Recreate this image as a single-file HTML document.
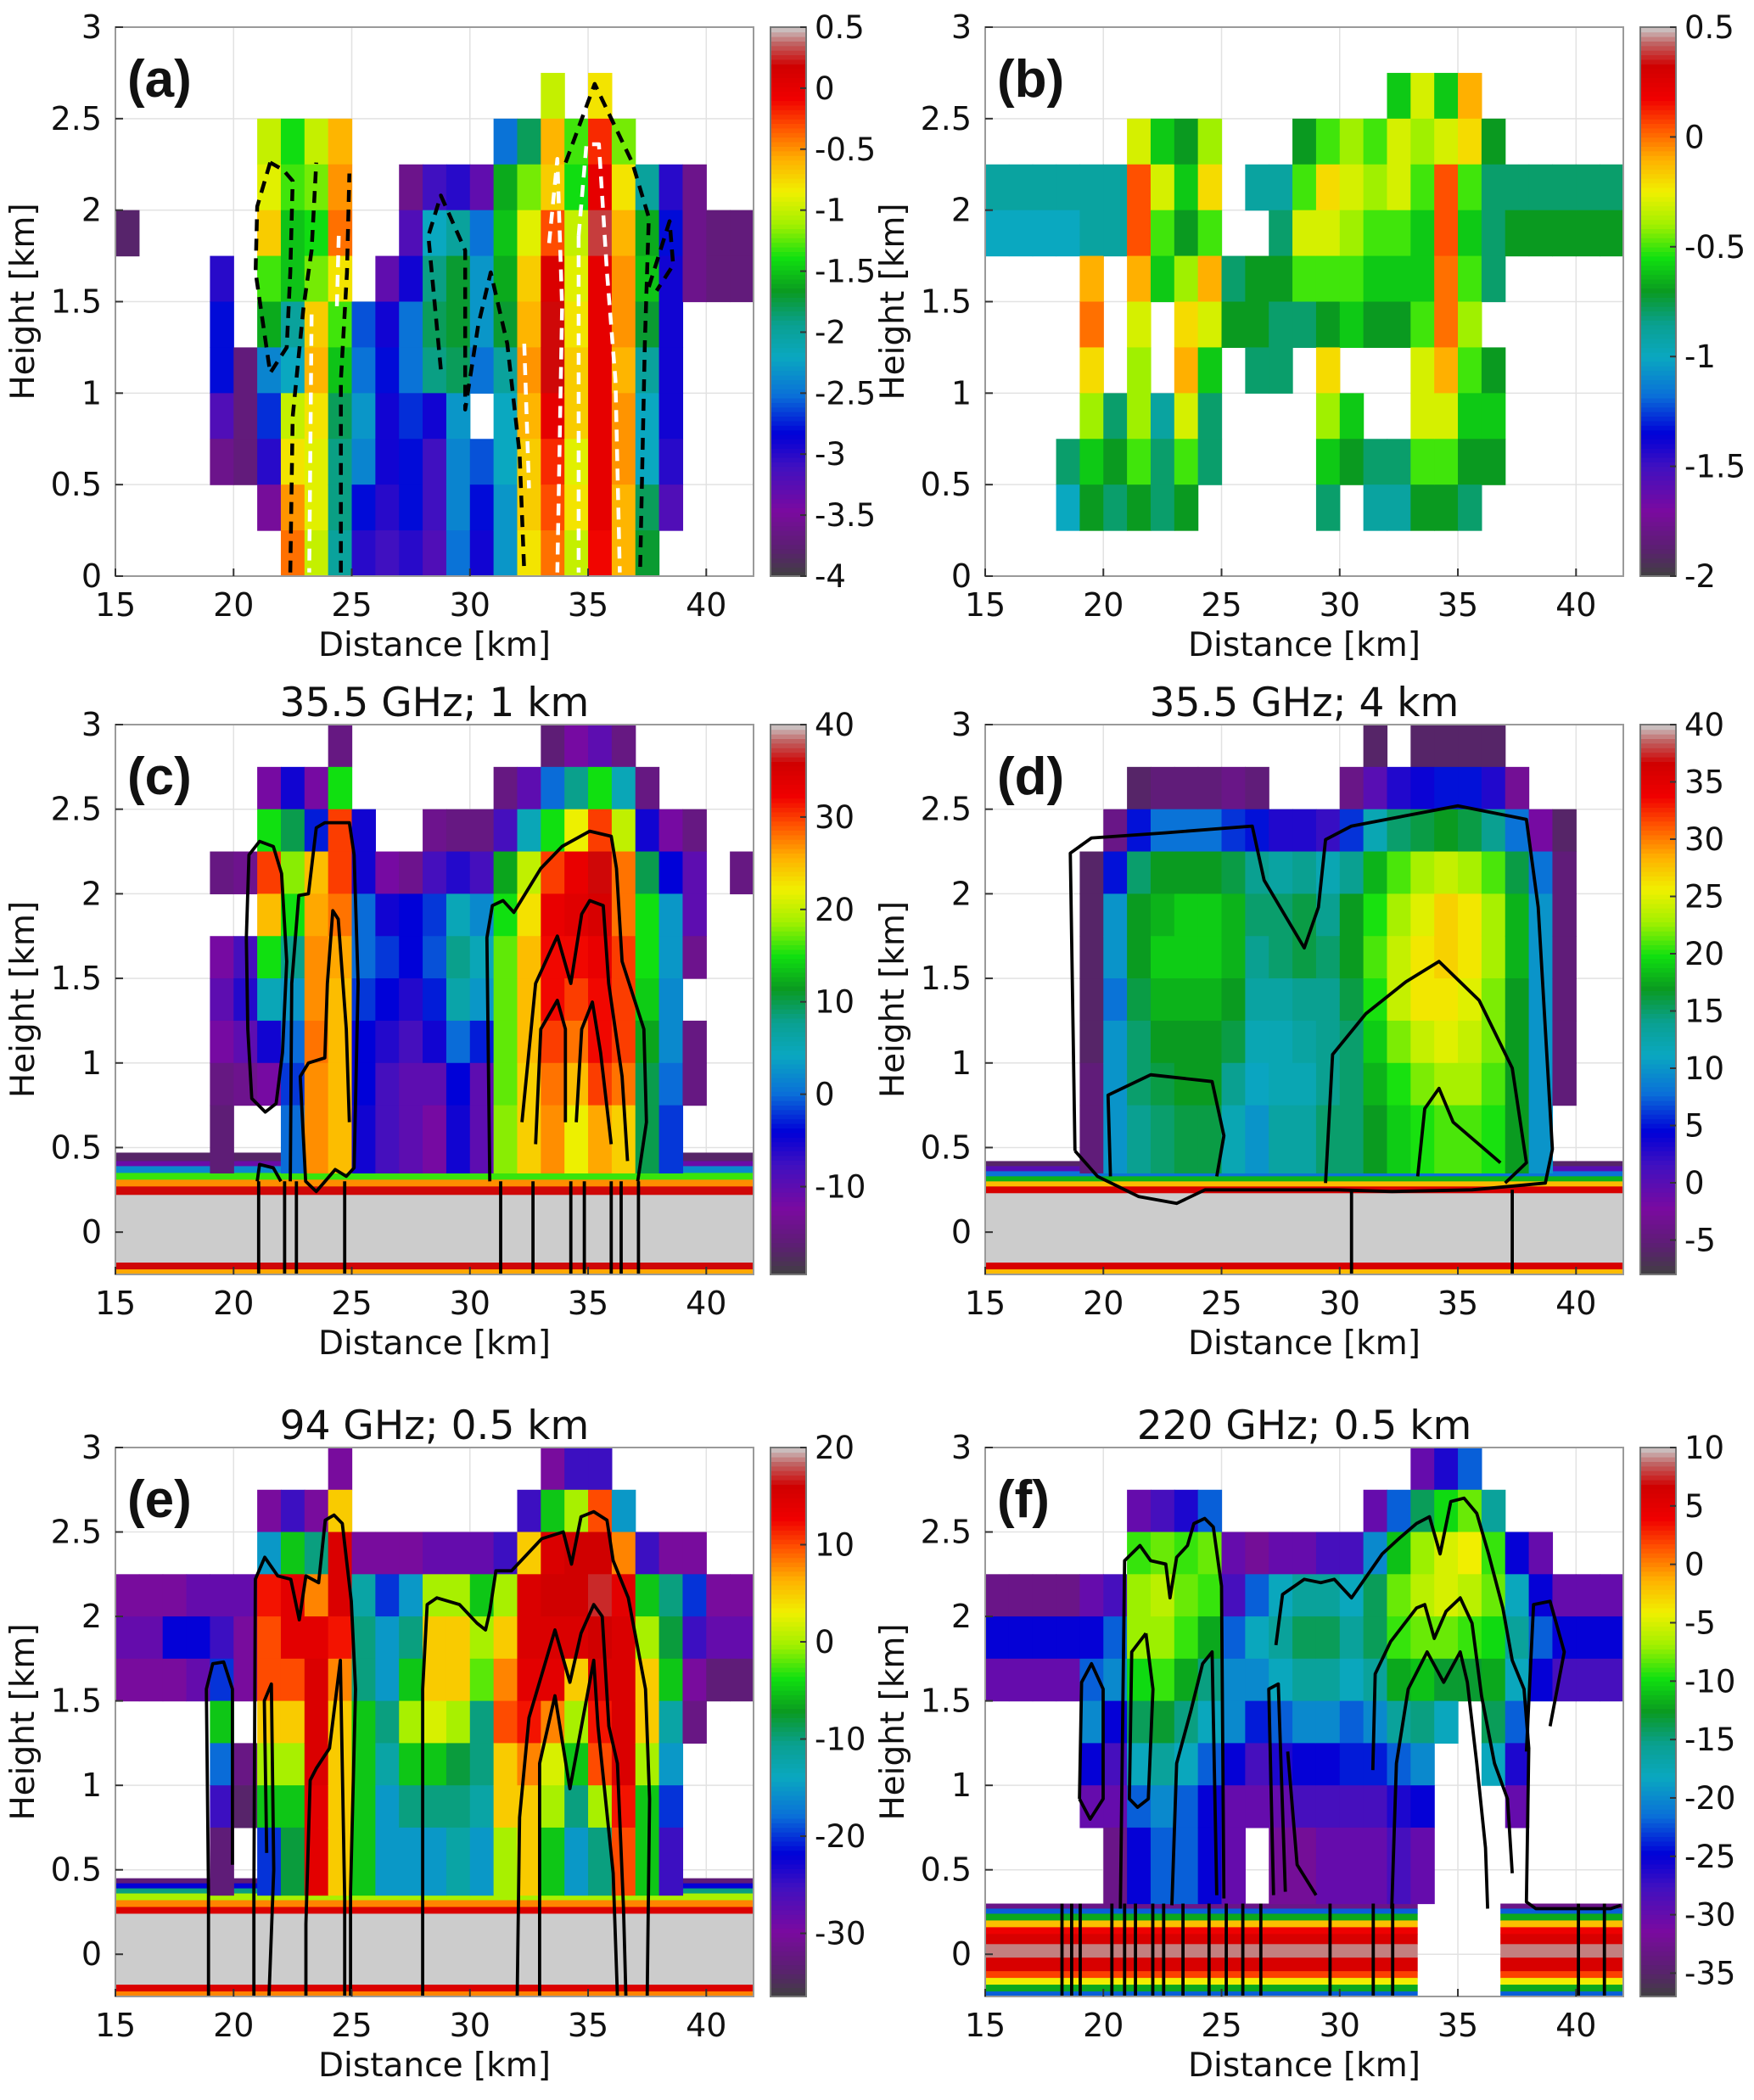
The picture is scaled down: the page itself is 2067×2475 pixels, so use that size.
<!DOCTYPE html>
<html><head><meta charset="utf-8"><title>Radar cross-sections</title>
<style>
html,body{margin:0;padding:0;background:#fff;}
svg{display:block;}
text{font-family:"DejaVu Sans","Liberation Sans",sans-serif;fill:#111;}
</style></head>
<body>
<svg id="fig" xmlns="http://www.w3.org/2000/svg" width="2067" height="2475" viewBox="0 0 2067 2475"></svg>
<script>
const n = null;
// ---------- data: columns 15..41 km, rows from top (3 km) downward ----------
const colsA = [
[n,n,n,n,-3.8,n,n,n,n,n,n,n],[n,n,n,n,n,n,n,n,n,n,n,n],[n,n,n,n,n,n,n,n,n,n,n,n],[n,n,n,n,n,n,n,n,n,n,n,n],
[n,n,n,n,n,-3,-2.8,-2.8,-3.2,-3.6,n,n],[n,n,n,n,n,n,n,-3.7,-3.7,-3.7,n,n],
[n,n,-1,-0.9,-0.7,-1.3,-1.6,-2.4,-2.7,-3,-3.5,n],
[n,n,-1.4,-1.3,-1.5,-1.5,-2,-2.2,-1,-0.8,-0.5,-0.4],
[n,n,-1,-1.2,-1.4,-1.2,-0.7,-0.6,-0.8,-0.9,-0.9,-1],
[n,n,-0.6,-0.5,-0.4,-0.8,-1.3,-1.5,-1.8,-1.9,-1.9,-2],
[n,n,n,n,n,n,-2.6,-2.5,-2.3,-2.4,-2.8,-3],
[n,n,n,n,n,-3.3,-2.9,-2.8,-2.9,-2.9,-3,-3.1],
[n,n,n,-3.6,-3.2,-2.9,-2.5,-2.5,-2.7,-2.8,-2.8,-3],
[n,n,n,-3.1,-2.2,-1.9,-1.8,-1.9,-2.9,-3.1,-3.1,-3.2],
[n,n,n,-3,-2,-1.7,-1.7,-1.8,-2.3,-2.4,-2.4,-2.5],
[n,n,n,-3.3,-2.5,-2.3,-2.3,-2.5,n,-2.6,-2.8,-2.9],
[n,n,-2.5,-1.6,-1.5,-1.6,-1.7,-2,-2.2,-2.2,-2.3,-2.3],
[n,n,-1.8,-1.2,-0.9,-0.7,-0.6,-0.5,-0.6,-0.7,-0.7,-0.8],
[n,-1,-0.6,-0.7,-0.3,0.1,0.2,0.2,0,-0.2,-0.3,-0.4],
[n,n,-1.3,-1.4,-1,-0.9,-0.8,-0.7,-0.7,-0.9,-0.8,-1],
[n,-0.8,-0.2,0,0.3,0,0,0,0,0,0,-0.1],
[n,n,-1.2,-0.8,-0.6,-0.5,-0.5,-0.6,-0.5,-0.5,-0.6,-0.6],
[n,n,n,-2,-1.6,-1.5,-1.7,-2,-2.2,-2.2,-1.8,-1.7],
[n,n,n,-3,-2.8,-2.9,-2.9,-2.9,-2.9,-3,-3.2,n],
[n,n,n,-3.6,-3.6,-3.6,n,n,n,n,n,n],
[n,n,n,n,-3.7,-3.7,n,n,n,n,n,n],
[n,n,n,n,-3.7,-3.7,n,n,n,n,n,n]];
const colsB = [
[n,n,n,-0.9,-1,n,n,n,n,n,n,n],[n,n,n,-0.9,-1,n,n,n,n,n,n,n],[n,n,n,-0.9,-1,n,n,n,n,n,n,n],
[n,n,n,-0.9,-1,n,n,n,n,-0.8,-1,n],
[n,n,n,-0.9,-0.9,-0.1,0,-0.2,-0.4,-0.6,-0.7,n],
[n,n,n,-0.9,-0.9,n,n,n,-0.8,-0.7,-0.8,n],
[n,n,-0.3,0.05,0.05,-0.1,-0.3,-0.4,-0.4,-0.5,-0.7,n],
[n,n,-0.6,-0.3,-0.5,-0.6,n,n,-0.9,-0.8,-0.8,n],
[n,n,-0.7,-0.6,-0.7,-0.4,-0.2,-0.1,-0.3,-0.5,-0.7,n],
[n,n,-0.4,-0.2,-0.5,-0.1,-0.3,-0.6,-0.8,-0.8,n,n],
[n,n,n,n,n,-0.8,-0.7,n,n,n,n,n],
[n,n,n,-0.9,n,-0.7,-0.7,-0.8,n,n,n,n],
[n,n,n,-0.9,-0.8,-0.7,-0.8,-0.8,n,n,n,n],
[n,n,-0.7,-0.5,-0.3,-0.5,-0.8,n,n,n,n,n],
[n,n,-0.5,-0.2,-0.3,-0.5,-0.7,-0.2,-0.4,-0.6,-0.8,n],
[n,n,-0.4,-0.3,-0.4,-0.5,-0.6,n,-0.6,-0.7,n,n],
[n,n,-0.5,-0.4,-0.5,-0.6,-0.7,n,n,-0.8,-0.9,n],
[n,-0.6,-0.3,-0.3,-0.5,-0.6,-0.7,n,n,-0.8,-0.9,n],
[n,-0.3,-0.4,-0.5,-0.6,-0.6,-0.5,-0.3,-0.3,-0.5,-0.7,n],
[n,-0.6,-0.3,0.05,0.05,0,0,-0.1,-0.3,-0.5,-0.7,n],
[n,-0.1,-0.2,-0.5,-0.6,-0.5,-0.4,-0.5,-0.6,-0.7,-0.8,n],
[n,n,-0.7,-0.8,-0.8,-0.8,n,-0.7,-0.6,-0.7,n,n],
[n,n,n,-0.8,-0.7,n,n,n,n,n,n,n],[n,n,n,-0.8,-0.7,n,n,n,n,n,n,n],[n,n,n,-0.8,-0.7,n,n,n,n,n,n,n],
[n,n,n,-0.8,-0.7,n,n,n,n,n,n,n],[n,n,n,-0.8,-0.7,n,n,n,n,n,n,n]];
const colsC = [
[n,n,n,n,n,n,n,n,n,n],[n,n,n,n,n,n,n,n,n,n],[n,n,n,n,n,n,n,n,n,n],[n,n,n,n,n,n,n,n,n,n],
[n,n,n,-15,n,-12,-10,-12,-15,-16],
[n,n,n,-14,n,-8,-6,-10,-14,n],
[n,-12,15,30,25,15,5,-5,-12,n],
[n,-5,10,18,15,8,3,0,-2,0],
[n,-12,-3,25,26,27,27,28,27,27],
[-15,15,30,30,28,26,25,25,25,25],
[n,n,-5,-5,0,0,-2,-4,-4,-5],
[n,n,n,-12,-5,-2,-4,-6,-8,-8],
[n,n,n,-14,-4,-4,-6,-8,-10,-10],
[n,n,-14,-8,-2,-1,-3,-5,-10,-12],
[n,n,-15,-6,5,8,6,0,-4,-5],
[n,n,-15,-8,2,5,3,-3,-10,-10],
[n,-15,-8,12,15,17,17,17,17,18],
[n,-10,5,20,23,25,25,25,24,24],
[-16,0,15,30,33,32,32,30,28,27],
[-12,8,22,33,34,32,30,28,25,22],
[-10,15,30,36,35,33,32,32,30,26],
[-15,5,20,28,28,30,30,30,28,24],
[n,-15,-5,10,15,15,14,12,10,10],
[n,n,-12,-4,3,3,2,2,0,-2],
[n,n,-15,-10,-10,-14,n,-15,-15,n],
[n,n,n,n,n,n,n,n,n,n],
[n,n,n,-15,n,n,n,n,n,n]];
const colsD = [
[n,n,n,n,n,n,n,n,n,n],[n,n,n,n,n,n,n,n,n,n],[n,n,n,n,n,n,n,n,n,n],[n,n,n,n,n,n,n,n,n,n],
[n,n,n,-6,-6,-6,-6,-6,-5,-5],
[n,n,-4,5,10,10,8,10,10,10],
[n,-6,5,15,17,17,16,15,15,14],
[n,-5,8,17,18,19,18,17,16,15],
[n,-5,8,17,19,19,18,17,17,16],
[n,-5,8,17,19,19,18,17,17,16],
[n,-4,6,16,18,18,17,16,14,12],
[n,-5,5,14,15,14,13,12,11,10],
[n,n,3,13,15,15,13,12,12,13],
[n,n,3,14,16,16,14,13,12,13],
[n,n,2,12,14,15,14,14,14,15],
[n,-4,6,14,17,17,16,15,15,15],
[-6,0,12,18,20,21,20,19,18,17],
[n,3,15,21,23,24,24,22,20,19],
[-6,4,16,23,25,26,26,24,22,20],
[-6,5,17,24,27,27,26,25,23,21],
[-6,5,16,23,26,26,25,24,23,21],
[-6,3,14,21,23,23,22,22,21,20],
[n,-3,8,16,18,18,17,17,17,17],
[n,n,-2,8,10,10,10,10,10,10],
[n,n,-6,-5,-5,-5,-5,-5,-5,n],
[n,n,n,n,n,n,n,n,n,n],[n,n,n,n,n,n,n,n,n,n]];
const colsE = [
[n,n,n,-30,-28,-30,n,n,n,n],[n,n,n,-30,-28,-30,n,n,n,n],[n,n,n,-30,-22,-30,n,n,n,n],[n,n,n,-28,-22,-28,n,n,n,n],
[n,n,n,-28,-25,-20,-5,-18,-25,-33],
[n,n,n,-28,-30,-30,n,-32,-34,n],
[n,-30,-15,12,10,10,5,0,-5,-20],
[n,-25,-5,14,14,10,5,0,-5,-8],
[n,-30,-10,8,14,15,15,15,14,14],
[-30,5,15,15,12,8,5,5,5,5],
[n,n,-30,-12,-10,-10,-5,-5,-5,-5],
[n,n,-30,-20,-15,-15,-10,-12,-15,-15],
[n,n,-30,-15,-10,-5,0,-5,-10,-15],
[n,n,-28,0,5,5,2,-5,-10,-15],
[n,n,-28,0,5,5,0,-8,-10,-12],
[n,n,-28,-5,0,-2,-10,-10,-12,-15],
[n,n,-25,0,5,8,10,5,5,0],
[n,-25,5,15,15,14,12,8,5,5],
[-30,-5,15,16,15,14,8,2,0,-5],
[-25,0,16,16,15,5,0,-5,-10,-15],
[-25,10,16,17,16,15,12,10,0,-10],
[n,-15,8,14,15,15,15,15,12,10],
[n,n,-25,-5,0,5,5,0,-5,-5],
[n,n,-30,-10,-8,-5,-12,-15,-20,-25],
[n,n,-30,-20,-25,-30,-32,n,n,n],
[n,n,n,-30,-28,-33,n,n,n,n],[n,n,n,-30,-28,-33,n,n,n,n]];
const colsF = [
[n,n,n,-33,-25,-30,n,n,n,n],[n,n,n,-33,-25,-30,n,n,n,n],[n,n,n,-33,-25,-30,n,n,n,n],[n,n,n,-33,-25,-30,n,n,n,n],
[n,n,n,-30,-25,-22,-20,-25,-30,n],
[n,n,n,-28,-22,-20,-25,-28,-30,-33],
[n,-30,-9,-7,-7,-10,-14,-18,-22,-25],
[n,-28,-8,-6,-7,-9,-13,-16,-20,-22],
[n,-26,-9,-8,-9,-12,-15,-18,-22,-22],
[n,-22,-8,-9,-12,-15,-18,-22,-25,-25],
[n,n,-30,-28,-22,-20,-20,-25,-30,-30],
[n,n,-32,-22,-18,-20,-24,-28,-30,n],
[n,n,-30,-18,-16,-18,-22,-26,-30,-32],
[n,n,-30,-16,-14,-16,-20,-25,-28,-32],
[n,n,-28,-16,-14,-16,-20,-25,-28,-30],
[n,n,-28,-18,-16,-18,-22,-24,-28,-30],
[n,-30,-20,-14,-14,-16,-20,-24,-28,-30],
[n,-22,-11,-8,-9,-12,-16,-22,-26,-28],
[-30,-14,-7,-6,-8,-11,-15,-20,-25,-30],
[-26,-10,-5,-5,-8,-13,-18,n,n,n],
[-22,-8,-4,-6,-9,-13,n,n,n,n],
[n,-16,-9,-8,-10,-12,-14,-18,n,n],
[n,n,-25,-18,-16,-18,-22,-26,-30,n],
[n,n,-30,-25,-22,-25,n,n,n,n],
[n,n,n,-30,-25,-28,n,n,n,n],[n,n,n,-30,-25,-28,n,n,n,n],[n,n,n,-30,-25,-28,n,n,n,n]];

// surface stripes: [top km, bottom km, value]
const surfC = [[0.47,0.42,-17],[0.42,0.39,-11],[0.39,0.35,2],[0.35,0.31,16],[0.31,0.27,27],[0.27,0.22,36],[0.22,-0.18,40],[-0.18,-0.22,36],[-0.22,-0.25,26]];
const surfD = [[0.42,0.39,-6],[0.39,0.36,0],[0.36,0.33,8],[0.33,0.30,18],[0.30,0.27,28],[0.27,0.23,36],[0.23,-0.18,40],[-0.18,-0.22,36],[-0.22,-0.25,28]];
const surfE = [[0.45,0.42,-33],[0.42,0.39,-22],[0.39,0.36,-10],[0.36,0.32,0],[0.32,0.28,8],[0.28,0.24,15],[0.24,-0.18,20],[-0.18,-0.22,15],[-0.22,-0.25,8]];
const surfF = [[0.3,0.27,-33],[0.27,0.24,-22],[0.24,0.2,-12],[0.2,0.16,-2],[0.16,0.12,4],[0.12,0.06,6],[0.06,-0.02,9],[-0.02,-0.1,6],[-0.1,-0.14,2],[-0.14,-0.18,-4],[-0.18,-0.22,-12],[-0.22,-0.25,-22]];
const surfRangeFull = [[15,42]];
const surfRangeF = [[15,33.3],[36.8,42]];

// colorbar tick labels
const cbTicksA = [0.5,0,-0.5,-1,-1.5,-2,-2.5,-3,-3.5,-4];
const cbTicksB = [0.5,0,-0.5,-1,-1.5,-2];
const cbTicksC = [40,30,20,10,0,-10];
const cbTicksD = [40,35,30,25,20,15,10,5,0,-5];
const cbTicksE = [20,10,0,-10,-20,-30];
const cbTicksF = [10,5,0,-5,-10,-15,-20,-25,-30,-35];
const xTicks = [15,20,25,30,35,40];
const yTicks = [0,0.5,1,1.5,2,2.5,3];

// contours [distance km, height km]
const contA_black = [
 [[22.4,0.02],[22.5,0.87],[22.96,1.47],[23.3,1.78],[23.5,2.26]],
 [[21.55,2.26],[21.0,2.02],[20.93,1.66],[21.55,1.11],[22.25,1.25],[22.4,1.66],[22.5,2.16],[22.1,2.22],[21.55,2.26]],
 [[24.54,0.02],[24.54,1.07],[24.8,1.66],[24.9,2.2]],
 [[28.77,1.13],[28.24,1.86],[28.77,2.08],[29.8,1.78],[29.8,0.91],[30.35,1.37],[30.88,1.66],[31.58,1.27],[32.1,0.67],[32.3,0.02]],
 [[34.05,2.26],[35.28,2.69],[36.87,2.26],[37.57,1.96],[37.4,1.27],[37.2,0.02]],
 [[37.57,1.58],[38.45,1.94],[38.6,1.7],[37.9,1.56]]];
const contA_white = [
 [[23.3,1.43],[23.2,0.02]],
 [[24.45,1.86],[24.37,1.47]],
 [[32.3,1.27],[32.5,0.48]],
 [[33.35,1.82],[33.7,2.28],[33.9,1.47],[33.7,0.02]],
 [[34.6,1.86],[34.93,2.36],[35.46,2.36],[35.8,1.66],[36.16,1.07],[36.34,0.02]],
 [[34.6,1.86],[34.6,0.02]]];
const contC = [
 [[20.54,1.74],[20.65,2.23],[21.1,2.31],[21.68,2.28],[22.03,2.12],[22.25,1.6],[22.07,1.06],[21.8,0.76],[21.34,0.71],[20.77,0.79],[20.6,1.2],[20.54,1.74]],
 [[22.4,0.3],[22.46,1.47],[22.76,1.99],[23.17,2.0],[23.5,2.39],[23.86,2.42],[24.9,2.42],[25.1,2.23],[25.27,1.47],[25.1,0.38],[24.77,0.33],[24.3,0.37],[23.5,0.24],[23.05,0.3],[22.82,0.92],[23.17,1.0],[23.86,1.03],[23.97,1.47],[24.2,1.9],[24.43,1.85],[24.77,1.2],[24.9,0.65]],
 [[21.0,0.3],[21.1,0.4],[21.68,0.38],[22.0,0.3]],
 [[30.84,0.3],[30.72,1.74],[30.95,1.93],[31.4,1.96],[31.86,1.89],[33.0,2.15],[33.9,2.28],[35.07,2.37],[35.98,2.34],[36.2,2.15],[36.44,1.6],[37.36,1.2],[37.47,0.65],[37.1,0.3]],
 [[32.2,0.65],[32.78,1.47],[33.7,1.75],[34.27,1.47],[34.73,1.88],[35.07,1.96],[35.64,1.93],[35.87,1.47],[36.44,0.92],[36.67,0.42]],
 [[32.78,0.52],[33.0,1.2],[33.7,1.37],[34.04,1.2],[34.04,0.65]],
 [[34.5,0.65],[34.73,1.2],[35.18,1.36],[35.53,1.06],[35.98,0.52]],
 [[21.06,0.3],[21.06,-0.25]],[[22.16,0.3],[22.16,-0.25]],[[22.66,0.3],[22.66,-0.25]],[[24.7,0.3],[24.7,-0.25]],
 [[31.3,0.3],[31.3,-0.25]],[[32.67,0.3],[32.67,-0.25]],[[34.27,0.3],[34.27,-0.25]],[[34.84,0.3],[34.84,-0.25]],
 [[35.98,0.3],[35.98,-0.25]],[[36.4,0.3],[36.4,-0.25]],[[37.13,0.3],[37.13,-0.25]]];
const contD = [
 [[18.8,0.48],[18.6,2.24],[19.5,2.33],[22.6,2.36],[26.3,2.4],[26.8,2.08],[28.5,1.68],[29.1,1.92],[29.4,2.32],[30.5,2.4],[35.0,2.52],[37.9,2.44],[38.4,1.92],[39.0,0.49],[38.7,0.29],[35.6,0.25],[32.2,0.24],[29.9,0.25],[24.3,0.25],[23.1,0.17],[21.5,0.21],[19.75,0.33],[18.8,0.48]],
 [[20.3,0.33],[20.2,0.81],[22.0,0.93],[24.6,0.89],[25.1,0.57],[24.8,0.33]],
 [[29.4,0.29],[29.7,1.05],[31.1,1.29],[32.8,1.48],[34.2,1.6],[35.9,1.37],[37.3,0.97],[37.9,0.41],[37.0,0.29]],
 [[33.3,0.33],[33.6,0.73],[34.2,0.85],[34.8,0.65],[36.8,0.41]],
 [[30.5,0.25],[30.5,-0.25]],[[37.3,0.25],[37.3,-0.25]]];
const contE = [
 [[18.94,-0.25],[18.94,0.37],[18.85,1.57],[19.12,1.72],[19.58,1.73],[19.95,1.57],[19.95,0.53]],
 [[20.86,-0.25],[20.86,0.37],[20.92,2.22],[21.32,2.35],[21.87,2.24],[22.42,2.22],[22.78,1.98],[23.06,2.24],[23.6,2.2],[23.88,2.57],[24.25,2.6],[24.6,2.55],[24.98,2.09],[25.16,1.57],[24.95,0.37],[24.95,-0.25]],
 [[28.0,-0.25],[28.0,1.57],[28.19,2.07],[28.6,2.11],[29.56,2.07],[30.3,1.96],[30.66,1.92],[30.84,2.03],[31.1,2.27],[31.76,2.27],[32.3,2.35],[33.04,2.46],[33.95,2.5],[34.3,2.31],[34.7,2.59],[35.24,2.62],[35.8,2.57],[36.06,2.33],[36.7,2.11],[37.43,1.57],[37.6,0.92],[37.5,-0.25]],
 [[32.0,-0.25],[32.1,0.81],[32.5,1.4],[33.6,1.92],[34.23,1.61],[34.7,1.9],[35.24,2.07],[35.6,2.0],[35.88,1.35],[36.24,1.13],[36.5,0.27],[36.6,-0.25]],
 [[32.95,-0.25],[32.95,1.13],[33.6,1.53],[34.23,0.98],[35.24,1.74],[35.42,1.35],[36.06,0.48],[36.24,-0.25]],
 [[23.06,-0.25],[23.06,0.18],[23.24,1.03],[23.5,1.1],[24.06,1.22],[24.52,1.74],[24.7,0.33],[24.7,-0.25]],
 [[21.4,0.6],[21.3,1.5],[21.6,1.6],[21.7,0.5],[21.5,-0.25]]];
const contF = [
 [[18.99,0.92],[19.08,1.61],[19.5,1.72],[19.99,1.57],[19.99,0.92],[19.44,0.8],[18.99,0.92]],
 [[20.72,0.27],[20.9,2.33],[21.55,2.42],[22.0,2.33],[22.64,2.31],[22.82,2.11],[23.1,2.35],[23.56,2.42],[23.83,2.55],[24.29,2.58],[24.65,2.53],[25.0,2.18],[25.1,0.33]],
 [[27.3,1.83],[27.58,2.13],[28.5,2.22],[29.2,2.2],[29.77,2.22],[30.5,2.11],[31.05,2.22],[31.8,2.37],[32.5,2.46],[33.25,2.55],[33.8,2.59],[34.25,2.37],[34.7,2.68],[35.26,2.7],[35.8,2.61],[36.3,2.37],[36.9,2.05],[37.3,1.74],[37.8,1.57],[38.0,1.22],[37.9,0.31],[38.3,0.27],[41.47,0.27],[41.9,0.29]],
 [[37.9,1.2],[38.2,2.07],[38.9,2.09],[39.5,1.79],[38.9,1.35]],
 [[31.4,1.09],[31.5,1.66],[32.15,1.85],[33.25,2.05],[33.6,2.07],[34.0,1.87],[34.5,2.03],[35.1,2.11],[35.6,1.96],[36.0,1.53],[36.55,1.13],[37.1,0.92],[37.3,0.48]],
 [[32.2,0.27],[32.4,1.13],[32.9,1.57],[33.7,1.79],[34.4,1.61],[35.1,1.79],[35.4,1.61],[35.8,1.13],[36.17,0.63],[36.26,0.27]],
 [[21.8,1.9],[21.2,1.79],[21.1,0.92],[21.45,0.87],[21.9,0.92],[22.1,1.57],[21.8,1.9]],
 [[22.9,0.29],[23.1,1.13],[23.7,1.44],[24.2,1.72],[24.6,1.79],[24.8,0.35]],
 [[27.2,0.35],[27.0,1.57],[27.4,1.6],[27.7,0.37]],
 [[27.8,1.2],[28.2,0.53],[29.0,0.35]],
 [[18.25,0.3],[18.25,-0.25]],[[18.66,0.3],[18.66,-0.25]],[[19.02,0.3],[19.02,-0.25]],[[20.36,0.3],[20.36,-0.25]],
 [[20.9,0.3],[20.9,-0.25]],[[21.36,0.3],[21.36,-0.25]],[[22.09,0.3],[22.09,-0.25]],[[22.55,0.3],[22.55,-0.25]],
 [[23.37,0.3],[23.37,-0.25]],[[24.47,0.3],[24.47,-0.25]],[[25.2,0.3],[25.2,-0.25]],[[25.9,0.3],[25.9,-0.25]],
 [[26.66,0.3],[26.66,-0.25]],[[29.59,0.3],[29.59,-0.25]],[[31.42,0.3],[31.42,-0.25]],[[32.24,0.3],[32.24,-0.25]],
 [[40.1,0.3],[40.1,-0.25]],[[41.2,0.3],[41.2,-0.25]]];

// ---------- rendering ----------
const SVGNS = 'http://www.w3.org/2000/svg';
const fig = document.getElementById('fig');
const stops = [[0,'#404040'],[0.05,'#5a2070'],[0.12,'#7a0aa0'],[0.2,'#4010c0'],[0.26,'#0000d8'],[0.33,'#0a70d8'],[0.4,'#0aa8c0'],[0.46,'#0aa090'],[0.52,'#0a9a20'],[0.58,'#10e010'],[0.64,'#a0f000'],[0.7,'#f0f000'],[0.76,'#ffb000'],[0.82,'#ff5000'],[0.87,'#f00000'],[0.93,'#d00000'],[0.97,'#c06060'],[1,'#cccccc']];
function hex(c){return [parseInt(c.slice(1,3),16),parseInt(c.slice(3,5),16),parseInt(c.slice(5,7),16)];}
function cmap(v,vmin,vmax){
  let t=(v-vmin)/(vmax-vmin); t=Math.max(0,Math.min(1,t));
  for(let i=1;i<stops.length;i++){
    if(t<=stops[i][0]){
      const a=stops[i-1],b=stops[i];const f=(t-a[0])/(b[0]-a[0]);
      const ca=hex(a[1]),cb=hex(b[1]);
      return 'rgb('+ca.map((c,k)=>Math.round(c+(cb[k]-c)*f)).join(',')+')';
    }
  }
  return stops[stops.length-1][1];
}
function mk(tag,attrs,parent){
  const e=document.createElementNS(SVGNS,tag);
  for(const k in attrs) e.setAttribute(k,attrs[k]);
  (parent||fig).appendChild(e); return e;
}

const panels = [
 {id:'a',cols:colsA,x0:136,x1:888,top:32,bot:679,hmin:0,vmin:-4,vmax:0.5,cb:cbTicksA,rows:[3,2.75,2.5,2.25,2,1.75,1.5,1.25,1,0.75,0.5,0.25,0],surf:null,cont:[[contA_black,'#000'],[contA_white,'#fff']],dash:true,title:null},
 {id:'b',cols:colsB,x0:1161,x1:1913,top:32,bot:679,hmin:0,vmin:-2,vmax:0.5,cb:cbTicksB,rows:[3,2.75,2.5,2.25,2,1.75,1.5,1.25,1,0.75,0.5,0.25,0],surf:null,cont:[],title:null},
 {id:'c',cols:colsC,x0:136,x1:888,top:854,bot:1502,hmin:-0.25,vmin:-19.5,vmax:40,cb:cbTicksC,rows:[3,2.75,2.5,2.25,2,1.75,1.5,1.25,1,0.75,0.35],surf:surfC,srange:surfRangeFull,cont:[[contC,'#000']],title:'35.5 GHz; 1 km'},
 {id:'d',cols:colsD,x0:1161,x1:1913,top:854,bot:1502,hmin:-0.25,vmin:-8,vmax:40,cb:cbTicksD,rows:[3,2.75,2.5,2.25,2,1.75,1.5,1.25,1,0.75,0.35],surf:surfD,srange:surfRangeFull,cont:[[contD,'#000']],title:'35.5 GHz; 4 km'},
 {id:'e',cols:colsE,x0:136,x1:888,top:1706,bot:2353,hmin:-0.25,vmin:-36.5,vmax:20,cb:cbTicksE,rows:[3,2.75,2.5,2.25,2,1.75,1.5,1.25,1,0.75,0.35],surf:surfE,srange:surfRangeFull,cont:[[contE,'#000']],title:'94 GHz; 0.5 km'},
 {id:'f',cols:colsF,x0:1161,x1:1913,top:1706,bot:2353,hmin:-0.25,vmin:-37,vmax:10,cb:cbTicksF,rows:[3,2.75,2.5,2.25,2,1.75,1.5,1.25,1,0.75,0.3],surf:surfF,srange:surfRangeF,cont:[[contF,'#000']],title:'220 GHz; 0.5 km'}
];

panels.forEach(p=>{
  const g=mk('g',{});
  
  
  const sx=x=>p.x0+(x-15)/27*(p.x1-p.x0);
  const sy=h=>p.bot-(h-p.hmin)/(3-p.hmin)*(p.bot-p.top);
  xTicks.forEach(t=>{
    const l=mk('line',{x1:sx(t),x2:sx(t),y1:p.top,y2:p.bot,stroke:'#e2e2e2','stroke-width':1.5},g);
    
    
  });
  yTicks.forEach(t=>{
    const l=mk('line',{x1:p.x0,x2:p.x1,y1:sy(t),y2:sy(t),stroke:'#e2e2e2','stroke-width':1.5},g);
    
    
  });
  if(p.surf){
    p.srange.forEach(r=>{
      p.surf.forEach(s=>{
        const rc=mk('rect',{x:sx(r[0]),y:sy(s[0]),width:sx(r[1])-sx(r[0]),height:sy(s[1])-sy(s[0])+0.5,fill:cmap(s[2],p.vmin,p.vmax)},g);
        
        
      });
    });
  }
  p.cols.forEach((col,i)=>{
    col.forEach((v,j)=>{
      if(v===null) return;
      const x=15+i;
      const c=mk('rect',{x:sx(x),y:sy(p.rows[j]),width:sx(x+1)-sx(x)+0.6,height:sy(p.rows[j+1])-sy(p.rows[j])+0.6,fill:cmap(v,p.vmin,p.vmax)},g);
      
      
    });
  });
  p.cont.forEach(set=>{
    set[0].forEach(line=>{
      const d=line.map((pt,k)=>(k?'L':'M')+sx(pt[0]).toFixed(1)+' '+sy(pt[1]).toFixed(1)).join(' ');
      const attrs={d:d,fill:'none',stroke:set[1],'stroke-width':p.dash?4.5:3.8,'stroke-linejoin':'round'};
      if(p.dash) attrs['stroke-dasharray']='14 9';
      const pa=mk('path',attrs,g);
      
      
    });
  });
  const box=mk('rect',{x:p.x0,y:p.top,width:p.x1-p.x0,height:p.bot-p.top,fill:'none',stroke:'#9a9a9a','stroke-width':2},g);
  
  
  xTicks.forEach(t=>{
    const tk=mk('line',{x1:sx(t),x2:sx(t),y1:p.bot,y2:p.bot-9,stroke:'#333','stroke-width':2},g);
    
    
    const tx=mk('text',{x:sx(t),y:p.bot+47,'font-size':38,'text-anchor':'middle'},g);
    tx.textContent=t;
    
    
  });
  yTicks.forEach(t=>{
    const tk=mk('line',{x1:p.x0,x2:p.x0+9,y1:sy(t),y2:sy(t),stroke:'#333','stroke-width':2},g);
    
    
    const tx=mk('text',{x:p.x0-16,y:sy(t)+13,'font-size':38,'text-anchor':'end'},g);
    tx.textContent=t;
    
    
  });
  const xl=mk('text',{x:(p.x0+p.x1)/2,y:p.bot+94,'font-size':39,'text-anchor':'middle'},g);
  xl.textContent='Distance [km]';
  
  
  const yc=(p.top+p.bot)/2, yx=p.x0-96;
  const yl=mk('text',{x:yx,y:yc,'font-size':39,'text-anchor':'middle',transform:'rotate(-90 '+yx+' '+yc+')'},g);
  yl.textContent='Height [km]';
  
  
  const lt=mk('text',{x:p.x0+14,y:p.top+82,'font-size':62,'font-weight':'bold',style:'font-family:"Liberation Sans",sans-serif'},g);
  lt.textContent='('+p.id+')';
  
  
  if(p.title){
    const tt=mk('text',{x:(p.x0+p.x1)/2,y:p.top-10,'font-size':47,'text-anchor':'middle'},g);
    tt.textContent=p.title;
    
    
  }
  const cx0=p.x1+20, cx1=p.x1+62;
  const cbg=mk('g',{},g);
  
  
  const N=120;
  for(let k=0;k<N;k++){
    const v=p.vmin+(k+0.5)/N*(p.vmax-p.vmin);
    const y0=p.bot-(k+1)/N*(p.bot-p.top);
    const r=mk('rect',{x:cx0,y:y0,width:cx1-cx0,height:(p.bot-p.top)/N+0.8,fill:cmap(v,p.vmin,p.vmax)},cbg);
    
    
  }
  const cbb=mk('rect',{x:cx0,y:p.top,width:cx1-cx0,height:p.bot-p.top,fill:'none',stroke:'#777','stroke-width':2},cbg);
  
  
  p.cb.forEach(t=>{
    const y=p.bot-(t-p.vmin)/(p.vmax-p.vmin)*(p.bot-p.top);
    const tk=mk('line',{x1:cx1-7,x2:cx1,y1:y,y2:y,stroke:'#333','stroke-width':2},cbg);
    
    
    const tx=mk('text',{x:cx1+10,y:y+13,'font-size':37},cbg);
    tx.textContent=t;
    
    
  });
});
</script>
</body></html>
